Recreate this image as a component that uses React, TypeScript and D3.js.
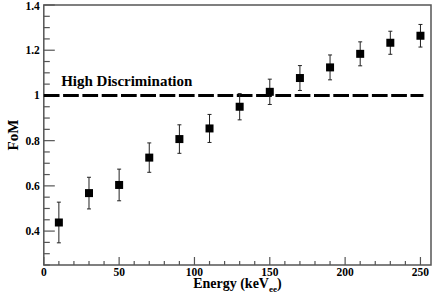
import React from 'react';
import * as d3 from 'd3';

const width = 436;
const height = 295;
const plotLeft = 43.8;
const plotRight = 431;
const plotTop = 5;
const plotBottom = 265;

// data
const energies = [10, 30, 50, 70, 90, 110, 130, 150, 170, 190, 210, 230, 250];
const fom = [0.438, 0.568, 0.604, 0.725, 0.807, 0.854, 0.950, 1.016, 1.077, 1.124, 1.184, 1.233, 1.264];
const fomErr = [0.09, 0.07, 0.07, 0.065, 0.063, 0.062, 0.058, 0.056, 0.055, 0.055, 0.053, 0.051, 0.05];
const xMajorTicks = [0, 50, 100, 150, 200, 250];
const yMajorTicks = [0.4, 0.6, 0.8, 1, 1.2, 1.4];
const thresholdValue = 1;
const thresholdLabel = 'High Discrimination';

const fontFamily = "'Liberation Serif', 'Times New Roman', 'DejaVu Serif', serif";
const axisColor = '#555';

const App: React.FC = () => {
  const xScale = d3.scaleLinear().domain([0, 257]).range([plotLeft, plotRight]);
  const yScale = d3.scaleLinear().domain([0.25, 1.4]).range([plotBottom, plotTop]);

  const xMinor = d3.range(0, 257, 10).filter(v => !xMajorTicks.includes(v));
  const yMinor = d3.range(0.25, 1.4001, 0.05).map(v => +v.toFixed(2)).filter(v => !yMajorTicks.some(t => Math.abs(t - v) < 1e-6));

  const markerSize = 8;
  const capHalf = 2;
  const txt = {fontFamily, fontWeight: 'bold' as const, fill: 'black'};

  return (
    <svg width={width} height={height} style={{position: 'absolute', left: 0, top: 0, background: 'white'}}>
      {/* frame */}
      <rect x={plotLeft} y={plotTop} width={plotRight - plotLeft} height={plotBottom - plotTop} fill="none" stroke={axisColor} strokeWidth={1.5}/>

      {/* x ticks, pointing inward */}
      {xMajorTicks.map(v => (
        <g key={'xM' + v} transform={`translate(${xScale(v)}, ${plotBottom})`}>
          <line y2={-8} stroke={axisColor} strokeWidth={1.2}/>
          <text y={11} textAnchor="middle" style={{...txt, fontSize: 11.5}}>{v}</text>
        </g>
      ))}
      {xMinor.map(v => (
        <line key={'xm' + v} x1={xScale(v)} x2={xScale(v)} y1={plotBottom} y2={plotBottom - 4} stroke={axisColor} strokeWidth={1.2}/>
      ))}

      {/* y ticks */}
      {yMajorTicks.map(v => (
        <g key={'yM' + v} transform={`translate(${plotLeft}, ${yScale(v)})`}>
          <line x2={11} stroke={axisColor} strokeWidth={1.2}/>
          <text x={-4} y={v === 1.4 ? 1 : 0} dy="0.35em" textAnchor="end" style={{...txt, fontSize: 11.5}}>{v}</text>
        </g>
      ))}
      {yMinor.map(v => (
        <line key={'ym' + v} x1={plotLeft} x2={plotLeft + 6} y1={yScale(v)} y2={yScale(v)} stroke={axisColor} strokeWidth={1.2}/>
      ))}

      {/* axis labels */}
      <text transform={`translate(18, ${(plotTop + plotBottom) / 2}) rotate(-90)`} textAnchor="middle" style={{...txt, fontSize: 15}}>FoM</text>
      <text x={(plotLeft + plotRight) / 2} y={288} textAnchor="middle" style={{...txt, fontSize: 14}}>
        Energy (keV<tspan style={{fontSize: 9}} dy={4}>ee</tspan><tspan dy={-4}>)</tspan>
      </text>

      {/* threshold line */}
      <line x1={xScale(0)} x2={xScale(252)} y1={yScale(thresholdValue)} y2={yScale(thresholdValue)} stroke="black" strokeWidth={3} strokeDasharray="15.7 3.6"/>
      <text x={xScale(11.5)} y={yScale(thresholdValue) - 9} style={{...txt, fontSize: 15}}>{thresholdLabel}</text>

      {/* error bars and markers */}
      {energies.map((e, i) => {
        const x = xScale(e);
        const y0 = yScale(fom[i] - fomErr[i]);
        const y1 = yScale(fom[i] + fomErr[i]);
        return (
          <g key={'pt' + e}>
            <line x1={x} x2={x} y1={y0} y2={y1} stroke="#222" strokeWidth={1}/>
            <line x1={x - capHalf} x2={x + capHalf} y1={y0} y2={y0} stroke="#222" strokeWidth={1}/>
            <line x1={x - capHalf} x2={x + capHalf} y1={y1} y2={y1} stroke="#222" strokeWidth={1}/>
            <rect x={x - markerSize / 2} y={yScale(fom[i]) - markerSize / 2} width={markerSize} height={markerSize} fill="black"/>
          </g>
        );
      })}
    </svg>
  );
};

export default App;
